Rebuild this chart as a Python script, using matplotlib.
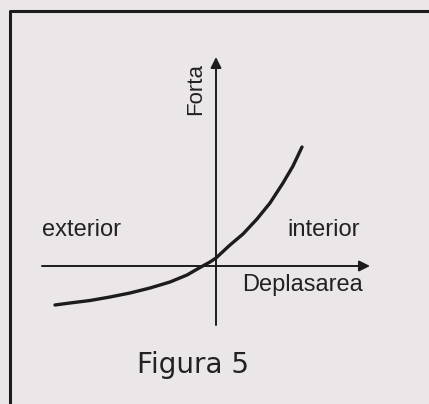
import matplotlib
matplotlib.use("Agg")
import matplotlib.pyplot as plt

# Force vs. displacement curve (arbitrary units, origin at the axes crossing)
deplasare = [-3.22, -2.92, -2.52, -2.12, -1.72, -1.32, -0.92, -0.58, -0.32, -0.12,
             0.0, 0.28, 0.54, 0.82, 1.08, 1.34, 1.54, 1.72]
forta = [-0.78, -0.74, -0.69, -0.62, -0.54, -0.44, -0.32, -0.18, -0.03, 0.08,
         0.16, 0.42, 0.64, 0.94, 1.26, 1.66, 2.0, 2.38]

x_axis_range = (-3.48, 3.08)
y_axis_range = (-1.18, 4.18)

paper = "#ebe7e8"
ink = "#1c1c1c"

fig = plt.figure(figsize=(4.29, 4.04), dpi=100, facecolor=paper)
ax = fig.add_axes([0, 0, 1, 1])
ax.set_facecolor(paper)
ax.set_xlim(-4.32, 4.26)
ax.set_ylim(-2.76, 5.32)
ax.axis("off")

# frame (left and top edges only)
ax.plot([-4.12, -4.12, 4.5], [-3.0, 5.1, 5.1], color=ink, lw=2.2, clip_on=False)

# axes with arrow heads
arrow = dict(arrowstyle="-|>", color=ink, lw=1.4, mutation_scale=16,
             shrinkA=0, shrinkB=0)
ax.annotate("", xy=(x_axis_range[1], 0), xytext=(x_axis_range[0], 0), arrowprops=arrow)
ax.annotate("", xy=(0, y_axis_range[1]), xytext=(0, y_axis_range[0]), arrowprops=arrow)

ax.plot(deplasare, forta, color=ink, lw=2.4, solid_capstyle="round",
        solid_joinstyle="round")

lbl = dict(family="Liberation Sans", color="#222222")
ax.text(-3.48, 0.60, "exterior", fontsize=17, ha="left", va="baseline", **lbl)
ax.text(1.42, 0.60, "interior", fontsize=17, ha="left", va="baseline", **lbl)
ax.text(0.52, -0.50, "Deplasarea", fontsize=17, ha="left", va="baseline", **lbl)
ax.text(-0.40, 3.54, "Forta", fontsize=16, rotation=90, ha="center", va="center", **lbl)
ax.text(-1.58, -2.14, "Figura 5", fontsize=20, ha="left", va="baseline",
        family="DejaVu Sans", color="#222222")

fig.savefig("out.png", dpi=100, facecolor=paper)
